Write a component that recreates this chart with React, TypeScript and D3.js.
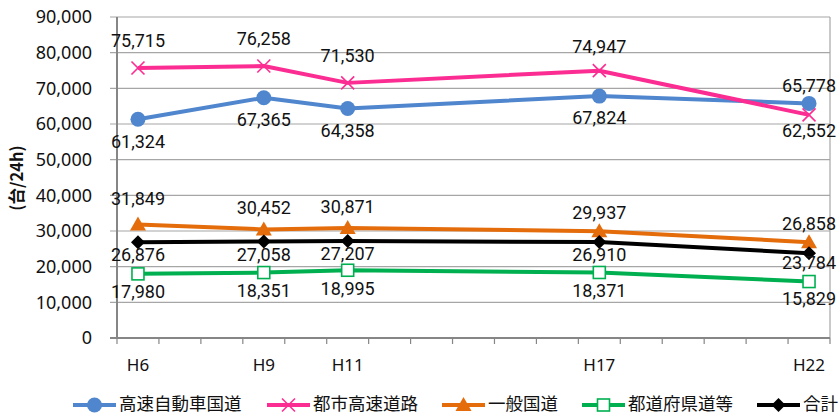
import React from 'react';
import * as d3 from 'd3';

// survey years (Heisei), values in 台/24h
const years = [6, 9, 11, 17, 22];
const yearLabels = ['H6', 'H9', 'H11', 'H17', 'H22'];
const expressway = [61324, 67365, 64358, 67824, 65778];
const urbanExpressway = [75715, 76258, 71530, 74947, 62552];
const nationalRoad = [31849, 30452, 30871, 29937, 26858];
const prefRoad = [17980, 18351, 18995, 18371, 15829];
const total = [26876, 27058, 27207, 26910, 23784];
const seriesNames = ['高速自動車国道', '都市高速道路', '一般国道', '都道府県道等', '合計'];
const yTicks = [0, 10000, 20000, 30000, 40000, 50000, 60000, 70000, 80000, 90000];

const W = 840;
const H = 414;
const left = 117;
const right = 830;
const top = 17;
const bottom = 338;
const legendY = 405;

type Marker = 'circle' | 'x' | 'triangle' | 'square' | 'diamond';

const series = [
  { name: seriesNames[0], values: expressway, color: '#4f86cd', marker: 'circle' as Marker, labelDy: [22, 22, 22, 22, -18] },
  { name: seriesNames[1], values: urbanExpressway, color: '#fb2d92', marker: 'x' as Marker, labelDy: [-27, -27, -27, -24, 16] },
  { name: seriesNames[2], values: nationalRoad, color: '#e46c0a', marker: 'triangle' as Marker, labelDy: [-26, -22, -21, -19, -19] },
  { name: seriesNames[3], values: prefRoad, color: '#00b050', marker: 'square' as Marker, labelDy: [18, 18, 18, 18, 17] },
  { name: seriesNames[4], values: total, color: '#000000', marker: 'diamond' as Marker, labelDy: [13, 13, 13, 13, 10] },
];

const legendX = [73, 267, 442, 582, 757];

function MarkerShape({ type, x, y, color }: { type: Marker; x: number; y: number; color: string }) {
  switch (type) {
    case 'circle':
      return <circle cx={x} cy={y} r={7.5} fill={color} />;
    case 'x':
      return (
        <g stroke={color} strokeWidth={1.6}>
          <line x1={x - 6.5} y1={y - 6.5} x2={x + 6.5} y2={y + 6.5} />
          <line x1={x - 6.5} y1={y + 6.5} x2={x + 6.5} y2={y - 6.5} />
        </g>
      );
    case 'triangle':
      return <path d={`M${x},${y - 8}L${x + 8},${y + 6}L${x - 8},${y + 6}Z`} fill={color} />;
    case 'square':
      return <rect x={x - 6} y={y - 6} width={12} height={12} fill="#fff" stroke={color} strokeWidth={1.6} />;
    case 'diamond':
      return <path d={`M${x},${y - 7}L${x + 7},${y}L${x},${y + 7}L${x - 7},${y}Z`} fill={color} />;
  }
}

export default function App() {
  const x = d3.scaleLinear().domain([5.5, 22.5]).range([left, right]);
  const y = d3.scaleLinear().domain([0, 90000]).range([bottom, top]);
  const line = d3.line<number>().x((d, i) => x(years[i])).y((d) => y(d));
  const fmt = d3.format(',');
  const yearTicks = d3.range(5.5, 23, 1);

  return (
    <svg width={W} height={H} style={{ position: 'absolute', left: 0, top: 0 }}>
      <rect width={W} height={H} fill="#fff" />
      {/* grid */}
      {yTicks.map((t) => (
        <line key={t} x1={left - 7} x2={right} y1={y(t)} y2={y(t)} stroke="#a6a6a6" strokeWidth={1.2} />
      ))}
      <line x1={right} x2={right} y1={top} y2={bottom} stroke="#a6a6a6" strokeWidth={1.2} />
      {/* axes */}
      <line x1={left} x2={left} y1={top} y2={bottom} stroke="#868686" strokeWidth={2} />
      <line x1={left - 7} x2={right} y1={bottom} y2={bottom} stroke="#868686" strokeWidth={2} />
      {yearTicks.map((t) => (
        <line key={t} x1={x(t)} x2={x(t)} y1={bottom} y2={bottom + 6} stroke="#868686" strokeWidth={1.2} />
      ))}
      {yTicks.map((t) => (
        <text key={t} x={92} y={y(t)} dy="0.35em" textAnchor="end" fontFamily="'Noto Sans', sans-serif" fontSize={18} fill="#111">
          {fmt(t)}
        </text>
      ))}
      {years.map((yr, i) => (
        <text key={yr} x={x(yr)} y={371} textAnchor="middle" fontFamily="'Noto Sans', sans-serif" fontSize={17} fill="#111">
          {yearLabels[i]}
        </text>
      ))}
      <text transform="translate(23,178) rotate(-90)" textAnchor="middle" fontFamily="'Noto Sans CJK JP', sans-serif" fontWeight="bold" fontSize={16.5} fill="#111">
        (台/24h)
      </text>
      {/* series */}
      {series.map((s) => (
        <g key={s.name}>
          <path d={line(s.values) || ''} fill="none" stroke={s.color} strokeWidth={4} strokeLinejoin="round" />
          {s.values.map((v, i) => (
            <MarkerShape key={i} type={s.marker} x={x(years[i])} y={y(v)} color={s.color} />
          ))}
        </g>
      ))}
      {series.map((s) =>
        s.values.map((v, i) => (
          <text key={s.name + i} x={x(years[i])} y={y(v) + s.labelDy[i]} dy="0.35em" textAnchor="middle" fontFamily="Roboto, sans-serif" fontSize={18} fill="#111">
            {fmt(v)}
          </text>
        ))
      )}
      {/* legend */}
      {series.map((s, i) => (
        <g key={s.name}>
          <line x1={legendX[i]} x2={legendX[i] + 43} y1={legendY} y2={legendY} stroke={s.color} strokeWidth={4} />
          <MarkerShape type={s.marker} x={legendX[i] + 21.5} y={legendY} color={s.color} />
          <text x={legendX[i] + 46} y={legendY - 1} dy="0.35em" fontFamily="'Noto Sans CJK JP', sans-serif" fontSize={17.5} fill="#111">
            {s.name}
          </text>
        </g>
      ))}
    </svg>
  );
}
